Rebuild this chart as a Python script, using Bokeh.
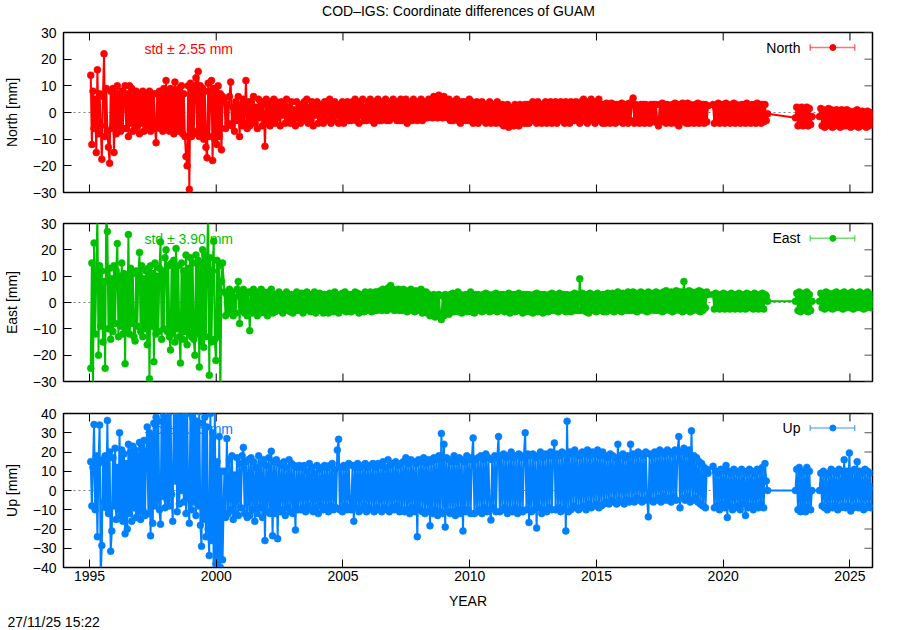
import numpy as np
from bokeh.plotting import figure
from bokeh.layouts import column
from bokeh.models import (Range1d, FixedTicker, CustomJSTickFormatter, Span, Label, Title)
from bokeh.embed import file_html
from bokeh.resources import INLINE

# ---------------------------------------------------------------- data
TITLE = "COD\u2013IGS: Coordinate differences of GUAM"
STAMP = "27/11/25 15:22"
X_RANGE = (1993.975, 2025.89)
YEAR_TICKS = [1995, 2000, 2005, 2010, 2015, 2020, 2025]
NE_TICKS = [-30, -20, -10, 0, 10, 20, 30]
UP_TICKS = [-40, -30, -20, -10, 0, 10, 20, 30, 40]

# time spans of the observing eras (decimal years); samples evenly spread in each
ERA_SPANS = [(1995.05, 2000.25), (2000.32, 2019.40), (2019.60, 2021.75),
             (2022.85, 2023.50), (2023.80, 2025.90)]

NORTH_E1 = [14, -12, 8, -6, 5, -15, 16, -8, 7, -5,
            -17.5, 6, 22, -9, 9, -7, -13, -19, 8, -6,
            9, -15, 7, -8, 10, -5, 6, -7, 8, -6,
            5, 10, -6, 7, -9, 10, -4, 9, -7, 6,
            -6, 8, -5, 7, -8, 6, -4, 8, -7, 5,
            -6, 7, -5, 8, -7, 6, -5, 7, -6, -11.3,
            7, -5, 8, -6, 6, -7, 9, -5, 12, -6,
            8, -7, 9, -5, 7, -8, 11.4, -6, 8, -7,
            9, -6, 10, -8, 7, -9, -16.5, -20, 10, -28.8,
            11, -9, 9, -8, 10, 13, -7, 15.4, -9, 10,
            -8, 9, -10, 8, -13, -17, 11, -9, 8, 12,
            -18, 9, -10, 8, -12, 10, -9, 7, -14, 6]
NORTH_E2 = [5, -6, 3, -4, 6, 11.4, -5, 2, -7, 4, -3, 6, -9, 3, -5, 5, -4, 12, -6, 4,
            -5, 4, -3, 6, -4, 2, -6, 5, -2, 4, -5, 3, -12.7, 5, -4, 3, -5, 4, -3, 5,
            -4, 4, -2, 3, -5, 4, -1, 3, -4, 5, -3, 2, -4, 4, -3, 1, -5, 4, -2, 3,
            -4, 3, -2, 4, -3, 5, -4, 2, -3, 4, -5, 3, -1, 4, -4, 3, -3, 2, -4, 4,
            -3, 4, -2, 5, -4, 3, -3, 4, -1, 3, -4, 2, -3, 4, -4, 3, -2, 4, -3, 3,
            -3, 4, -2, 5, -3, 3, -4, 4, -1, 5, -3, 2, -3, 4, -2, 5, -3, 3, -4, 4,
            -2, 5, -3, 3, -3, 4, -1, 5, -3, 2, -3, 4, -2, 5, -2, 3, -3, 4, -3, 5,
            -3, 4, -2, 5, -4, 3, -2, 4, -3, 5, -2, 3, -3, 4, -2, 5, -3, 4, -2, 4,
            -2, 5, -1, 4, -2, 6, -1, 5, -2, 6.5, -1, 5, -2, 6, -1, 4, -2, 5, -3, 4,
            -3, 4, -2, 5, -3, 3, -4, 4, -2, 4, -3, 3, -3, 5, -2, 4, -4, 3, -3, 4,
            -4, 3, -2, 4, -3, 3, -4, 2, -3, 4, -4, 3, -2, 3, -4, 4, -3, 2, -4, 3,
            -5, 2, -4, 3, -5.5, 2, -4, 1, -5, 3, -4, 2, -5, 3, -3, 2, -4, 3, -4, 3,
            -4, 3, -3, 4, -2, 3, -4, 4, -3, 2, -4, 3, -3, 4, -4, 3, -2, 4, -4, 3,
            -3, 4, -4, 3, -2, 4, -3, 3, -4, 4, -3, 2, -4, 4, -3, 3, -3, 4, -2, 3,
            -4, 4, -3, 5, -3, 3, -4, 4, -2, 5, -3, 3, -4, 4, -3, 5, -3, 3, -4, 3,
            -4, 3.5, -3, 3, -4, 3.5, -2, 3, -4, 3, -3.5, 3, -3, 3.5, -4, 3, -3, 3, -4, 3.5,
            -3, 3, 5.4, -4, 3, -3.5, 2, -4, 3, -3, 3, -4, 3, -3.5, 2, -4, 3, -3, 3, -3.5,
            3, -3, -5, 3, -3.5, 3.5, -3, 3, -4, 3, -3.5, 2, -4, 3, -3, 3.5, -4, 3, -5, 3,
            -3.5, 3.5, -3, 3, -4, 3.5, -4, 3, -3.5, 2, -4, 3, -3.5, 3.5, -4, 3, -3, 3, -4, 3,
            -3.5, 2.5]
NORTH_E3 = [3, -4, 2, -3.5, 3.5, -4, 3, -2, 3, -4, 3.5, -3.5, 2, -4, 3, -3, 3.5, -4,
            3, -3.5, 2, -4, 3, -3.5, 3, -4, 3.5, -3, 2, -4, 3, -3.5, 3, -4, 3.5, -3,
            3, -4, 3, -3.5, 3, -3, -0.5]
NORTH_E4 = [-2, 2, -5, 1.5, -4.5, 2, -5, 1, -4, 2, -5, 1.5, -4.5, -1.5]
NORTH_E5 = [-1.5, 1.5, -5, 1, -5.5, 0.5, -4.5, 1.5, -5, 1, -5.5, 0, -5, 1, -4.5, 0.5,
            -5.5, 1, -5, 0.5, -5, 1, -4.5, 0.5, -5.5, 0, -5, 0.5, -5, 1, -5.5, 0,
            -5, 0.5, -4.5, 0, -5.5, 0.5, -5, 0, -4.5, -1]

EAST_E1 = [-25, 15, -35, 22.6, -12, 10, 35, -20, 14, -9,
           12, -15, 8, -25, 35, 27, -10, 13, -14, 9,
           -11, 14, -8, 12, 22.4, -13, 10, -9, 15, -12,
           11, -23.3, 9, -10, 25.8, -12, 13, -8, 11, -13,
           -14.6, 12, -9, 10, 19, -11, 14, -13, 9, -10,
           12, -16, 13, -29, 14, -9, 11, -22.5, 15, -12,
           10, -11, 13, 23, -14, 12, -10, 17, 20, -11,
           14, -13, -18, 15, -12, 16, -15, 20.5, -10, 14,
           -13, -23, 15, -14, 12, -11, 18, -16, 13, -12,
           17, -13, 15, -14, -20, 18, -12, 16, -24.5, 15,
           -15, 20, -17, 18, -13, 16, 35, -27.6, 17, -15,
           12, 23.3, -14, -22, 16, -13, 14, -35, 8, 15]
EAST_E2 = [4, -5, 3, -4, 5, -3, 4, -5, 2, -4, 5, 8, -8, 4, -3, 5, -4, 3, -5, 4,
           -10.7, 4, -4, 5, -3, 4, -5, 3, -4, 5, -2, 4, -4, 3, -5, 4, -3, 5, -4, 3,
           -3.5, 3, -2, 4, -3, 2, -4, 3, -3, 4, -2, 3, -3.5, 3, -4, 2, -3, 4, -3, 3,
           -3, 3.5, -4, 2, -3, 4, -2, 3, -3.5, 3, -3, 4, -4, 2, -3, 3.5, -2, 3, -4, 3,
           -3, 3, -4, 3.5, -2, 3, -3.5, 4, -3, 2, -4, 3, -3, 3.5, -2, 4, -3.5, 3, -3, 3,
           -3.5, 3, -3, 4, -2, 3.5, -4, 3, -3, 2, -3.5, 4, -3, 3, -2, 4, -3.5, 3, -3, 4,
           -3, 4, -2, 4.5, -3, 5, -2, 4, -3, 5.5, -2.5, 6.5, -2, 5, -3, 4.5, -2, 5, -3, 4.5,
           -3, 5, -2, 4.5, -3.5, 4, -2, 5, -3, 4, -3.5, 4.5, -2, 4, -3, 5, -4, 4, -3, 4,
           -4, 3, -5, 2, -4, 3, -5.5, 2, -4, 3, -5, -6.5, 2.5, -5, 3, -4, 2, -4.5, 3, -3.5,
           3.5, -3.5, 3, -3, 4, -3.5, 3, -4, 2, -3, 3, -3.5, 3, -3, 4, -3.5, 2, -4, 3, -3,
           3, -3, 2, -3.5, 3, -3, 3.5, -2, 3, -3.5, 2, -3, 3, -3, 3.5, -3.5, 2, -3, 3, -3,
           3, -3.5, 2, -3, 3.5, -4, 3, -2, 3, -3.5, 3, -3, 3.5, -3, 2, -4, 3, -3.5, 3, -3,
           3, -3.5, 2, -4, 3, -3, 3.5, -3.5, 3, -2, 3, -4, 3, -3, 2, -3.5, 3, -3, 3.5, -3,
           3, -3, 2, -3.5, 3.5, -3, 3, -2, 3, -3.5, 3, -3, 2, -3.5, 3, -3, 3.5, -3, 3, -3,
           9, -3, 3.5, -2, 3, -3.5, 3, -4, 3.5, -3, 2, -3, 3, -3.5, 3.5, -3, 2, -3, 3, -3.5,
           3, -3.5, 3.5, -2, 3, -3, 3.5, -3.5, 2, -3, 4, -3, 3, -3.5, 3.5, -2, 3, -3, 4, -3,
           3.5, -3, 4, -2, 3.5, -3.5, 3, -3, 4, -2, 3.5, -3, 3, -3.5, 4, -3, 3.5, -2, 3, -3,
           4, -3, 3.5, -2, 3.5, -3.5, 4, -3, 4.5, -2, 3, -3, 4, -3.5, 3.5, -3, 4.5, -2, 4, -3,
           4, -3.5, 8, -3, 4, -2, 4.5, -3.5, 4, -3, 3.5, -2, 4, -3, 4.5, -3.5, 4, -3, 3.5, -2,
           4, 3]
EAST_E3 = [3, -2.5, 3.5, -2, 2, -2.5, 3, -1.5, 3.5, -2.5, 3, -2, 2, -2.5, 3.5, -2, 3,
           -2.5, 3, -1.5, 3.5, -2.5, 2, -2, 3, -2.5, 3.5, -2, 3, -1.5, 3, -2.5, 3.5, -2,
           2, -2.5, 3, -2, 3.5, -2.5, 3, 2.5, 0.5]
EAST_E4 = [0.5, 3.5, -3, 4, -3.5, 3, -2, 3.5, -3, 4, -3.5, 3, -3, 0.5]
EAST_E5 = [0.5, 3.5, -2, 3, -2.5, 4, -1.5, 3.5, -2, 3, -2.5, 3.5, -2, 4, -1.5, 3,
           -2, 3.5, -2.5, 4, -2, 3, -1.5, 3.5, -2, 4, -2.5, 3, -2, 3.5, -1.5, 4,
           -2, 3, -2.5, 3.5, -2, 4, -1.5, 3, -2, 1]

UP_E1 = [15, -8, 12, 34.3, -10, 18, -24, 14, 34, -45,
         -28.6, 16, -6, 18, -9, 36.4, -12, 20, -31.6, -21,
         17, -8, 22, -15, 12, -10, 30, -13, 21, -16,
         19, -22.5, 14, -20, 24, -12, 20, -16, 23, -9,
         21, -14, 18, -11, 25, -15, 22, -10, 26, -13,
         20, 33, -12, 30, -23.5, 28, -17, 35, -8, 38,
         -5, 36, -10, -17.5, 42, -3, 39, -9, 44, -5,
         40, -8, 45, -2, -16, 43, 5, 41, -11, 46,
         -7, 42, 0, 45, -6, 41, -12, 44, -4, -17,
         40, -10, 38, -6, 43, -13, 36, -8, 41, -18,
         -29, 35, -15, 38, -24, 33, -20, -33.8, 40, -26,
         30, -45, 42, -38, 15, -45, 28, -40, 10, -36]
UP_E2 = [10, -14, 27, -12, 16, -10, 18, -15, 8, -12, 17, -13, 14, -9, 18, 22.4, -12, 15, -14, 16,
         -13, 17, -10, 15, -16, 12, -12, 18, -9, 14, -14, 16, -26, 13, -11, 17, -12, 20.4, -23.5, 15,
         -12, 16, -25, 14, -11, 13, -10, 15, -13, 12, -9, 16, -11, 14, -12, 13, -20.5, 12, -10, 13,
         -10, 12, -9, 13, -11, 10, -8, 14, -10, 12, -11, 9, -9, 13, -12, 11, -8, 12, -10, 13,
         -9, 12, -11, 13, -8, 14, -10, 11, -9, 21, 26.6, -10, 12, -11, 13, -8, 12, -10, 14, -9,
         -10, 13, -16, 12, -9, 14, -11, 12, -10, 13, -8, 14, -11, 12, -9, 13, -10, 14, -11, 12,
         -9, 14, -10, 13, -11, 15, -9, 12, -10, 16, -11, 13, -9, 14, -10, 15, -8, 13, -11, 14,
         -10, 15, -11, 17, -10, 14, -12, 16, -9, 15, -11, 14, -24, 16, -10, 15, -11, 17, -12, 14,
         -11, 16, -18.3, 15, -12, 17, -10, 16, -13, 18, -11, 29.6, -12, 24, -19, 17, -11, 16, -12, 15,
         -11, 18, -13, 15, -10, 17, -12, 16, -21, 15, -11, 18, -10, 16, -12, 17, 27.3, -12, 16, -11,
         17, -10, 18, -12, 16, -9, 19, -11, 17, -10, -15.3, 16, -9, 18, -11, 17, 28, -11, 18, -10,
         19, -9, 17, -12, 18, -10, 20, -11, 17, -9, 18, -12, 19, -10, 17, -11, 18, 30, -10, 19,
         -16.6, 18, -11, 19, -10, 17, -19.5, 18, -9, 20, -12, 17, -10, 19, -11, 18, -9, 20, -10, 18,
         24.7, -10, 19, -9, 18, -11, 20, -10, 19, -21, 36, -11, 20, -10, 19, -8, 21, -9, 19, -10,
         18, -9, 20, -8, 19, -10, 21, -7, 18, -9, 20, -8, 19, -7, 21, -9, 18, -8, 20, -7,
         18, -6, 17, -7, 19, -5, 18, -6, 17, -7, 24, -5, 18, -6, 19, -7, 17, -5, 18, -6,
         24, -5, 19, -6, 18, -4, 20, -5, 19, -6, 18, -5, 20, -4, -13.7, 19, -5, 18, -6, 20,
         -5, 19, -4, 21, -6, 20, -3, 19, -5, 21, -4, 20, -6, 19, -3, 21, -5, 20, 28, -9,
         20, -4, 22, -5, 19, -3, 21, -6, 31, -5, 18, -4, 17, -6, 15, -7, 14, -8, 12, -9,
         11, 9]
UP_E3 = [12.6, -9, 10, -8, 9, -10, 11, -7, 10, -9, 13, -14, 10, -8, 9, -10, 11, -9,
         10, -8, 9, -10, 11, -7, 10, -13, 9, -9, 11, -8, 10, -10, 9, -8, 11, -9,
         10, -7, 12, -9, 14, 5, 0]
UP_E4 = [0, 11, -10, 12, -11, 9, -8, 10, -11, 12, -9, 10, -10, 0]
UP_E5 = [0, 9, -8, 10, -9, 8, -10, 9, -8, 11, -9, 10, -8, 9, -10, 11, -9, 10, -8, 16,
         -9, 10, -8, 19.5, -10.6, 10, -9, 11, -8, 15, -9, 10, -8, 9, -10, 11, -9, 10,
         -8, 9, -9, 2]

NORTH_STD = "std \u00b1 2.55 mm"
EAST_STD = "std \u00b1 3.90 mm"
UP_STD = "std \u00b1 7.25 mm"

# ---------------------------------------------------------------- style
FONT = "Liberation Sans"
FS = "14px"
FRAME_W = 809
CANVAS_W = 56 + FRAME_W + 6
MINUS_FMT = "return tick < 0 ? '\\u2212' + (-tick) : String(tick);"


def style_axis(ax, ticks, formatter=None):
    ax.ticker = FixedTicker(ticks=ticks, minor_ticks=[])
    ax.major_tick_in = 8
    ax.major_tick_out = 0
    ax.major_tick_line_color = "black"
    ax.minor_tick_line_color = None
    ax.axis_line_color = "black"
    ax.major_label_text_font = FONT
    ax.major_label_text_color = "black"
    ax.major_label_text_font_size = FS
    if formatter is not None:
        ax.formatter = formatter
    ax.axis_label_text_font = FONT
    ax.axis_label_text_font_size = FS
    ax.axis_label_text_font_style = "normal"
    ax.axis_label_text_color = "black"


def title_strip(text, height, sx, sy):
    """A bare strip (no axes) that carries the page title."""
    s = figure(frame_width=CANVAS_W, frame_height=height,
               x_range=Range1d(0, 1), y_range=Range1d(0, 1),
               x_axis_location=None, y_axis_location=None,
               output_backend="svg", toolbar_location=None, min_border=0)
    s.xgrid.visible = False
    s.ygrid.visible = False
    s.outline_line_color = None
    s.background_fill_color = "white"
    s.border_fill_color = "white"
    s.add_layout(Label(x=sx, y=sy, x_units="screen", y_units="screen", text=text,
                       text_font=FONT, text_font_size=FS, text_align="center",
                       text_baseline="middle", text_color="black"))
    return s


def panel(name, eras, color, yrange, yticks, std_text, frame_h, top, bottom,
          last=False):
    x0, x1 = X_RANGE
    y0, y1 = yrange
    p = figure(frame_width=FRAME_W, frame_height=frame_h,
               x_range=Range1d(x0, x1), y_range=Range1d(y0, y1),
               output_backend="svg", toolbar_location=None,
               min_border_left=56, min_border_right=6,
               min_border_top=top, min_border_bottom=bottom)
    p.xgrid.visible = False
    p.ygrid.visible = False
    p.outline_line_color = "black"
    p.outline_line_width = 1.5
    p.background_fill_color = "white"
    p.border_fill_color = "white"

    style_axis(p.yaxis[0], yticks, CustomJSTickFormatter(code=MINUS_FMT))
    p.yaxis[0].axis_label = name + " [mm]"
    p.yaxis[0].major_label_standoff = 7
    p.yaxis[0].axis_label_standoff = 10
    if last:
        style_axis(p.xaxis[0], YEAR_TICKS)
        p.xaxis[0].axis_label = "YEAR"
        p.xaxis[0].major_label_standoff = 3
        p.xaxis[0].axis_label_standoff = 9
    else:
        p.xaxis.visible = False

    # mirror ticks (inward) on the top / right (and bottom of upper panels)
    dx = 8 * (x1 - x0) / FRAME_W
    dy = 8 * (y1 - y0) / frame_h
    nt = len(YEAR_TICKS)
    p.segment(x0=YEAR_TICKS, y0=[y1] * nt, x1=YEAR_TICKS, y1=[y1 - dy] * nt,
              line_color="black", line_width=1)
    if not last:
        p.segment(x0=YEAR_TICKS, y0=[y0] * nt, x1=YEAR_TICKS, y1=[y0 + dy] * nt,
                  line_color="black", line_width=1)
    ny = len(yticks)
    p.segment(x0=[x1] * ny, y0=yticks, x1=[x1 - dx] * ny, y1=yticks,
              line_color="#505050", line_width=1)

    p.add_layout(Span(location=0, dimension="width", line_color="#808080",
                      line_dash="2 3", line_width=1, level="underlay"))

    # std label (drawn below the data)
    p.add_layout(Label(x=x0 + 0.100 * (x1 - x0), y=y0 + 0.90 * (y1 - y0),
                       text=std_text, text_color=color, text_font=FONT,
                       text_font_size=FS, text_baseline="middle",
                       level="underlay"))

    xs = np.concatenate([np.linspace(a, b, len(v)) for (a, b), v in zip(ERA_SPANS, eras)])
    ys = np.concatenate([np.asarray(v, dtype=float) for v in eras])
    p.line(xs, ys, line_color=color, line_width=2.0, line_alpha=1.0)
    p.scatter(xs, ys, marker="circle", size=7, fill_color=color,
              line_color=color, line_width=0.5)

    # legend: key text + errorbar sample
    ly = y0 + 0.906 * (y1 - y0)
    lx_txt = x0 + 0.911 * (x1 - x0)
    lx_a = x0 + 0.923 * (x1 - x0)
    lx_b = x0 + 0.978 * (x1 - x0)
    lx_c = x0 + 0.951 * (x1 - x0)
    cap = 0.02 * (y1 - y0)
    p.add_layout(Label(x=lx_txt, y=ly, text=name, text_font=FONT, text_font_size=FS,
                       text_align="right", text_baseline="middle", text_color="black"))
    p.segment(x0=[lx_a, lx_a, lx_b], y0=[ly, ly - cap, ly - cap],
              x1=[lx_b, lx_a, lx_b], y1=[ly, ly + cap, ly + cap],
              line_color=color, line_width=1.5, line_alpha=0.55)
    p.scatter([lx_c], [ly], marker="circle", size=6, fill_color=color, line_color=color)
    return p


head = title_strip(TITLE, 20, 395, 10)
p1 = panel("North", [NORTH_E1, NORTH_E2, NORTH_E3, NORTH_E4, NORTH_E5], "#ff0000",
           (-30, 30), NE_TICKS, NORTH_STD, 160, 12, 15)
p2 = panel("East", [EAST_E1, EAST_E2, EAST_E3, EAST_E4, EAST_E5], "#00c000",
           (-30, 30), NE_TICKS, EAST_STD, 158, 16, 16)
p3 = panel("Up", [UP_E1, UP_E2, UP_E3, UP_E4, UP_E5], "#0080ff",
           (-40, 40), UP_TICKS, UP_STD, 154, 16, 58, last=True)
p3.add_layout(Title(text=STAMP, align="left", offset=-56, text_font=FONT,
                    text_font_size=FS, text_font_style="normal",
                    text_color="black", standoff=0), "below")

layout = column(head, p1, p2, p3, spacing=0)
open("out.html", "w", encoding="utf-8").write(file_html(layout, INLINE))
